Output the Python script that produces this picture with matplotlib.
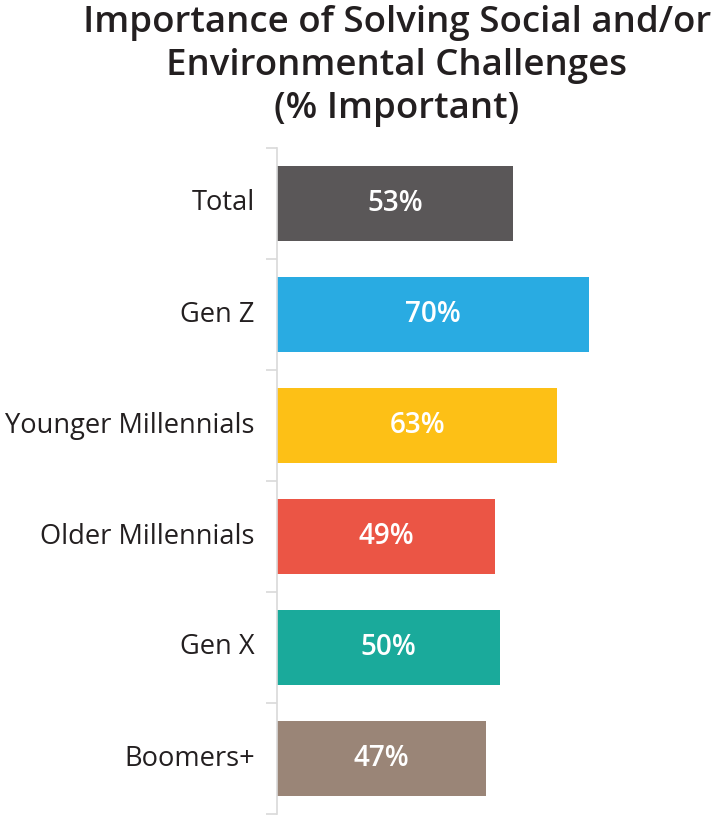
import matplotlib
matplotlib.use("Agg")
import matplotlib.pyplot as plt

# data
categories = ["Total", "Gen Z", "Younger Millennials", "Older Millennials", "Gen X", "Boomers+"]
values = [53, 70, 63, 49, 50, 47]
colors = ["#5a5758", "#29abe2", "#fdc016", "#eb5545", "#1aaa9b", "#9a8577"]
title = "Importance of Solving Social and/or\nEnvironmental Challenges\n(% Important)"

plt.rcParams["font.family"] = ["Open Sans", "DejaVu Sans"]

fig = plt.figure(figsize=(7.22, 8.26), dpi=100)
ax = fig.add_axes([277 / 722, 12 / 826, 1 - 277 / 722, (814 - 148) / 826])

pos = list(range(len(categories)))
ax.barh(pos, values, height=0.67, color=colors)
for p, v in zip(pos, values):
    ax.text(v / 2, p, f"{v}%", ha="center", va="center", color="white",
            fontsize=20, fontweight="semibold")

ax.set_xlim(0, 100)
ax.set_ylim(len(categories) - 0.5, -0.5)

# category labels as text, tick marks at boundaries
ax.set_yticks([p - 0.5 for p in pos] + [len(categories) - 0.5])
ax.set_yticklabels([])
ax.tick_params(axis="y", length=8, width=1.2, color="#d9d9d9")
for p, c in zip(pos, categories):
    ax.text(-5, p, c, ha="right", va="center", fontsize=19.6, color="#231f20",
            transform=ax.transData, clip_on=False)

ax.set_xticks([])
for s in ["top", "right", "bottom"]:
    ax.spines[s].set_visible(False)
ax.spines["left"].set_color("#d9d9d9")
ax.spines["left"].set_linewidth(1.2)

fig.text(397 / 722, 1 - 5 / 826, title, ha="center", va="top", fontsize=26.4,
         fontweight="semibold", color="#231f20", linespacing=1.26)

fig.savefig("out.png", dpi=100)
